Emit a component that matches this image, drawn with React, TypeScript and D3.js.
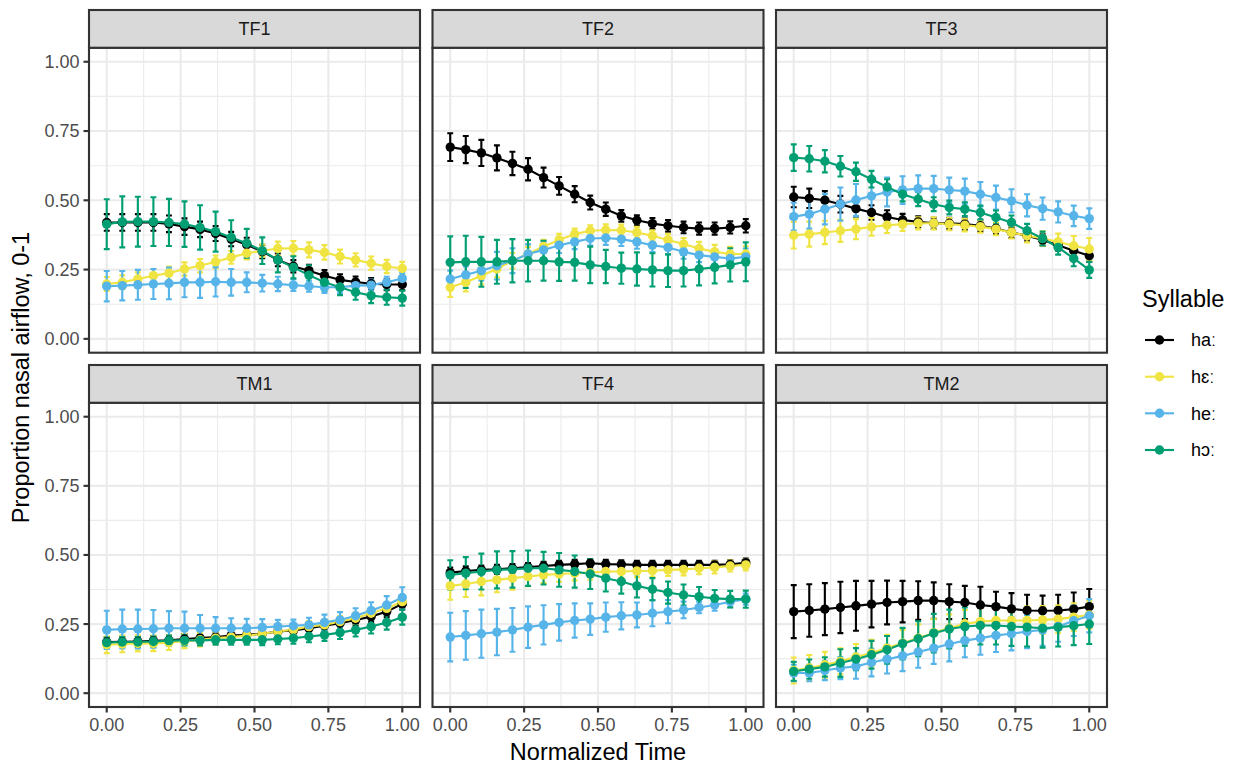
import React from "react";
import * as d3 from "d3";

// ---------- data ----------
const times = [0, 0.0526, 0.1053, 0.1579, 0.2105, 0.2632, 0.3158, 0.3684, 0.4211, 0.4737, 0.5263, 0.5789, 0.6316, 0.6842, 0.7368, 0.7895, 0.8421, 0.8947, 0.9474, 1];
const panelNames = ["TF1", "TF2", "TF3", "TM1", "TF4", "TM2"];
const syllables = ["haː", "hɛː", "heː", "hɔː"];
const syllableColors = ["#000000", "#F0E442", "#56B4E9", "#009E73"];
const xTicks = [0, 0.25, 0.5, 0.75, 1];
const yTicks = [0, 0.25, 0.5, 0.75, 1];
const minorTicks = [0.125, 0.375, 0.625, 0.875];

// TF1
const tf1_ha = [0.42, 0.42, 0.42, 0.42, 0.415, 0.405, 0.395, 0.38, 0.36, 0.34, 0.315, 0.285, 0.262, 0.246, 0.228, 0.213, 0.205, 0.199, 0.196, 0.196];
const tf1_ha_err = [0.03, 0.03, 0.03, 0.03, 0.03, 0.03, 0.028, 0.027, 0.026, 0.025, 0.024, 0.023, 0.022, 0.021, 0.02, 0.02, 0.02, 0.02, 0.02, 0.02];
const tf1_he1 = [0.198, 0.204, 0.216, 0.228, 0.237, 0.252, 0.264, 0.278, 0.294, 0.309, 0.318, 0.326, 0.327, 0.321, 0.312, 0.297, 0.285, 0.273, 0.261, 0.254];
const tf1_he1_err = [0.025, 0.025, 0.024, 0.024, 0.024, 0.024, 0.024, 0.023, 0.023, 0.022, 0.022, 0.025, 0.026, 0.027, 0.026, 0.025, 0.024, 0.024, 0.024, 0.024];
const tf1_he2 = [0.19, 0.192, 0.195, 0.198, 0.2, 0.204, 0.204, 0.206, 0.204, 0.204, 0.201, 0.198, 0.194, 0.19, 0.186, 0.186, 0.192, 0.194, 0.204, 0.218];
const tf1_he2_err = [0.055, 0.053, 0.054, 0.054, 0.057, 0.054, 0.056, 0.053, 0.048, 0.036, 0.03, 0.026, 0.021, 0.02, 0.02, 0.02, 0.02, 0.02, 0.02, 0.02];
const tf1_ho = [0.414, 0.422, 0.423, 0.423, 0.42, 0.414, 0.402, 0.387, 0.366, 0.345, 0.318, 0.285, 0.258, 0.23, 0.204, 0.186, 0.168, 0.156, 0.15, 0.147];
const tf1_ho_err = [0.09, 0.092, 0.09, 0.088, 0.085, 0.082, 0.08, 0.072, 0.062, 0.052, 0.048, 0.045, 0.04, 0.035, 0.03, 0.028, 0.027, 0.027, 0.027, 0.027];

// TF2
const tf2_ha = [0.692, 0.683, 0.671, 0.653, 0.633, 0.612, 0.582, 0.552, 0.522, 0.492, 0.468, 0.444, 0.428, 0.416, 0.408, 0.402, 0.398, 0.398, 0.402, 0.408];
const tf2_ha_err = [0.05, 0.049, 0.047, 0.045, 0.042, 0.04, 0.036, 0.032, 0.029, 0.025, 0.024, 0.021, 0.018, 0.02, 0.021, 0.021, 0.022, 0.022, 0.022, 0.024];
const tf2_he1 = [0.186, 0.204, 0.228, 0.252, 0.282, 0.306, 0.333, 0.357, 0.378, 0.39, 0.393, 0.392, 0.384, 0.372, 0.357, 0.342, 0.326, 0.314, 0.306, 0.306];
const tf2_he1_err = [0.035, 0.033, 0.032, 0.03, 0.028, 0.026, 0.024, 0.022, 0.02, 0.02, 0.02, 0.02, 0.02, 0.02, 0.022, 0.022, 0.024, 0.025, 0.026, 0.028];
const tf2_he2 = [0.216, 0.231, 0.246, 0.264, 0.282, 0.306, 0.321, 0.338, 0.35, 0.362, 0.364, 0.36, 0.35, 0.338, 0.33, 0.314, 0.302, 0.296, 0.29, 0.296];
const tf2_he2_err = [0.03, 0.03, 0.035, 0.05, 0.045, 0.035, 0.03, 0.028, 0.026, 0.025, 0.025, 0.025, 0.025, 0.025, 0.025, 0.025, 0.025, 0.025, 0.025, 0.03];
const tf2_ho = [0.276, 0.278, 0.278, 0.278, 0.282, 0.282, 0.282, 0.278, 0.276, 0.267, 0.261, 0.255, 0.252, 0.249, 0.246, 0.246, 0.252, 0.258, 0.267, 0.278];
const tf2_ho_err = [0.094, 0.094, 0.09, 0.079, 0.078, 0.075, 0.072, 0.069, 0.066, 0.066, 0.06, 0.056, 0.06, 0.06, 0.059, 0.057, 0.059, 0.058, 0.06, 0.07];

// TF3
const tf3_ha = [0.512, 0.507, 0.5, 0.486, 0.47, 0.456, 0.44, 0.429, 0.422, 0.417, 0.417, 0.414, 0.408, 0.398, 0.384, 0.372, 0.357, 0.338, 0.318, 0.3];
const tf3_ha_err = [0.037, 0.035, 0.033, 0.03, 0.028, 0.026, 0.024, 0.022, 0.02, 0.02, 0.02, 0.02, 0.02, 0.02, 0.02, 0.02, 0.02, 0.02, 0.02, 0.022];
const tf3_he1 = [0.374, 0.378, 0.384, 0.39, 0.396, 0.404, 0.41, 0.414, 0.417, 0.417, 0.414, 0.41, 0.405, 0.396, 0.384, 0.372, 0.362, 0.35, 0.336, 0.324];
const tf3_he1_err = [0.048, 0.045, 0.042, 0.04, 0.036, 0.032, 0.028, 0.025, 0.022, 0.022, 0.022, 0.022, 0.022, 0.022, 0.022, 0.024, 0.026, 0.03, 0.035, 0.04];
const tf3_he2 = [0.441, 0.45, 0.468, 0.486, 0.501, 0.516, 0.53, 0.537, 0.542, 0.542, 0.537, 0.533, 0.522, 0.51, 0.498, 0.482, 0.47, 0.458, 0.444, 0.434];
const tf3_he2_err = [0.05, 0.052, 0.055, 0.06, 0.058, 0.055, 0.052, 0.05, 0.048, 0.046, 0.045, 0.045, 0.044, 0.043, 0.042, 0.04, 0.04, 0.038, 0.037, 0.037];
const tf3_ho = [0.654, 0.65, 0.641, 0.623, 0.603, 0.576, 0.548, 0.522, 0.504, 0.486, 0.474, 0.468, 0.456, 0.438, 0.42, 0.39, 0.362, 0.33, 0.29, 0.249];
const tf3_ho_err = [0.048, 0.046, 0.04, 0.037, 0.033, 0.03, 0.028, 0.026, 0.025, 0.025, 0.025, 0.025, 0.025, 0.025, 0.025, 0.025, 0.025, 0.026, 0.028, 0.029];

// TM1
const tm1_ha = [0.185, 0.186, 0.187, 0.189, 0.191, 0.196, 0.199, 0.203, 0.208, 0.211, 0.215, 0.223, 0.227, 0.235, 0.244, 0.253, 0.265, 0.277, 0.295, 0.323];
const tm1_ha_err = [0.018, 0.018, 0.018, 0.018, 0.018, 0.018, 0.018, 0.018, 0.018, 0.018, 0.018, 0.018, 0.018, 0.018, 0.018, 0.019, 0.019, 0.02, 0.02, 0.02];
const tm1_he1 = [0.175, 0.178, 0.18, 0.18, 0.183, 0.189, 0.193, 0.199, 0.203, 0.208, 0.215, 0.223, 0.23, 0.241, 0.247, 0.259, 0.271, 0.289, 0.307, 0.331];
const tm1_he1_err = [0.03, 0.03, 0.029, 0.028, 0.027, 0.026, 0.024, 0.022, 0.02, 0.02, 0.02, 0.02, 0.02, 0.02, 0.02, 0.02, 0.02, 0.02, 0.02, 0.022];
const tm1_he2 = [0.229, 0.232, 0.232, 0.233, 0.235, 0.235, 0.235, 0.235, 0.235, 0.235, 0.238, 0.241, 0.244, 0.247, 0.256, 0.265, 0.28, 0.299, 0.319, 0.346];
const tm1_he2_err = [0.069, 0.07, 0.07, 0.068, 0.062, 0.06, 0.048, 0.04, 0.036, 0.034, 0.03, 0.024, 0.022, 0.026, 0.028, 0.028, 0.027, 0.03, 0.032, 0.037];
const tm1_ho = [0.183, 0.185, 0.185, 0.187, 0.19, 0.191, 0.191, 0.193, 0.193, 0.193, 0.193, 0.196, 0.199, 0.205, 0.211, 0.219, 0.229, 0.241, 0.256, 0.275];
const tm1_ho_err = [0.018, 0.018, 0.018, 0.018, 0.018, 0.018, 0.018, 0.018, 0.018, 0.018, 0.019, 0.019, 0.02, 0.021, 0.022, 0.023, 0.024, 0.025, 0.026, 0.027];

// TF4
const tf4_ha = [0.436, 0.442, 0.446, 0.448, 0.452, 0.456, 0.46, 0.464, 0.467, 0.47, 0.467, 0.466, 0.464, 0.464, 0.464, 0.464, 0.464, 0.464, 0.466, 0.472];
const tf4_ha_err = [0.018, 0.017, 0.016, 0.016, 0.015, 0.015, 0.015, 0.015, 0.015, 0.015, 0.015, 0.015, 0.015, 0.015, 0.015, 0.015, 0.015, 0.015, 0.015, 0.015];
const tf4_he1 = [0.388, 0.395, 0.404, 0.41, 0.416, 0.422, 0.428, 0.431, 0.434, 0.436, 0.44, 0.44, 0.442, 0.443, 0.446, 0.448, 0.452, 0.455, 0.46, 0.464];
const tf4_he1_err = [0.05, 0.047, 0.05, 0.045, 0.042, 0.035, 0.03, 0.028, 0.026, 0.025, 0.024, 0.022, 0.022, 0.022, 0.022, 0.022, 0.022, 0.022, 0.02, 0.02];
const tf4_he2 = [0.203, 0.209, 0.215, 0.221, 0.229, 0.239, 0.247, 0.256, 0.263, 0.268, 0.275, 0.28, 0.283, 0.289, 0.295, 0.301, 0.31, 0.319, 0.331, 0.34];
const tf4_he2_err = [0.088, 0.088, 0.087, 0.084, 0.079, 0.075, 0.071, 0.066, 0.062, 0.057, 0.053, 0.049, 0.045, 0.047, 0.042, 0.03, 0.021, 0.021, 0.02, 0.02];
const tf4_ho = [0.428, 0.434, 0.44, 0.446, 0.448, 0.452, 0.452, 0.446, 0.44, 0.431, 0.416, 0.404, 0.388, 0.376, 0.364, 0.355, 0.349, 0.343, 0.34, 0.34];
const tf4_ho_err = [0.053, 0.058, 0.065, 0.067, 0.066, 0.064, 0.059, 0.061, 0.058, 0.054, 0.048, 0.044, 0.042, 0.04, 0.04, 0.038, 0.035, 0.03, 0.03, 0.031];

// TM2
const tm2_ha = [0.295, 0.299, 0.304, 0.31, 0.316, 0.322, 0.328, 0.331, 0.335, 0.335, 0.331, 0.328, 0.319, 0.313, 0.305, 0.299, 0.298, 0.299, 0.304, 0.313];
const tm2_ha_err = [0.096, 0.095, 0.094, 0.093, 0.09, 0.084, 0.079, 0.075, 0.07, 0.066, 0.063, 0.06, 0.066, 0.054, 0.057, 0.057, 0.055, 0.057, 0.06, 0.064];
const tm2_he1 = [0.082, 0.091, 0.103, 0.115, 0.131, 0.145, 0.163, 0.181, 0.199, 0.219, 0.235, 0.251, 0.259, 0.263, 0.263, 0.263, 0.265, 0.268, 0.275, 0.283];
const tm2_he1_err = [0.047, 0.047, 0.047, 0.047, 0.047, 0.048, 0.048, 0.048, 0.05, 0.05, 0.05, 0.05, 0.05, 0.05, 0.05, 0.05, 0.05, 0.05, 0.05, 0.05];
const tm2_he2 = [0.073, 0.073, 0.082, 0.091, 0.097, 0.111, 0.123, 0.135, 0.149, 0.163, 0.178, 0.19, 0.199, 0.209, 0.215, 0.223, 0.229, 0.241, 0.262, 0.28];
const tm2_he2_err = [0.03, 0.03, 0.035, 0.04, 0.045, 0.05, 0.052, 0.055, 0.057, 0.057, 0.063, 0.06, 0.06, 0.06, 0.06, 0.06, 0.058, 0.055, 0.055, 0.06];
const tm2_ho = [0.079, 0.087, 0.095, 0.109, 0.123, 0.139, 0.157, 0.179, 0.197, 0.217, 0.232, 0.241, 0.245, 0.245, 0.241, 0.239, 0.235, 0.239, 0.244, 0.25];
const tm2_ho_err = [0.034, 0.035, 0.035, 0.05, 0.04, 0.05, 0.05, 0.057, 0.063, 0.07, 0.07, 0.069, 0.069, 0.069, 0.07, 0.07, 0.07, 0.07, 0.07, 0.072];

const panelMeans = [
  [tf1_ha, tf1_he1, tf1_he2, tf1_ho],
  [tf2_ha, tf2_he1, tf2_he2, tf2_ho],
  [tf3_ha, tf3_he1, tf3_he2, tf3_ho],
  [tm1_ha, tm1_he1, tm1_he2, tm1_ho],
  [tf4_ha, tf4_he1, tf4_he2, tf4_ho],
  [tm2_ha, tm2_he1, tm2_he2, tm2_ho],
];
const panelErrs = [
  [tf1_ha_err, tf1_he1_err, tf1_he2_err, tf1_ho_err],
  [tf2_ha_err, tf2_he1_err, tf2_he2_err, tf2_ho_err],
  [tf3_ha_err, tf3_he1_err, tf3_he2_err, tf3_ho_err],
  [tm1_ha_err, tm1_he1_err, tm1_he2_err, tm1_ho_err],
  [tf4_ha_err, tf4_he1_err, tf4_he2_err, tf4_ho_err],
  [tm2_ha_err, tm2_he1_err, tm2_he2_err, tm2_ho_err],
];

// ---------- layout ----------
const W = 1238;
const H = 767;
const FONT = "'Liberation Sans', Arial, Helvetica, sans-serif";
const colLefts = [89, 432.5, 776];
const panelW = 331;
const stripTops = [10, 365];
const plotTops = [47.9, 402.9];
const plotBottoms = [352.7, 707];
const capHalf = 0.01;
const grid = "#ebebeb";
const dark = "#333333";

function Panel({ idx }: { idx: number }) {
  const col = idx % 3;
  const row = Math.floor(idx / 3);
  const left = colLefts[col];
  const top = plotTops[row];
  const h = plotBottoms[row] - top;
  const x = d3.scaleLinear().domain([-0.06, 1.06]).range([0, panelW]);
  const y = d3.scaleLinear().domain([-0.05, 1.05]).range([h, 0]);
  const means = panelMeans[idx];
  const errs = panelErrs[idx];
  const line = d3
    .line<number>()
    .x((_, i) => x(times[i]))
    .y((d) => y(d));
  const stripH = top - stripTops[row];
  return (
    <g>
      <g transform={`translate(${left},${stripTops[row]})`}>
        <rect x={0} y={0} width={panelW} height={stripH} fill="#d9d9d9" stroke={dark} strokeWidth={2.1} />
        <text x={panelW / 2} y={stripH / 2} dy="0.36em" textAnchor="middle" fontSize={18} fill="#1a1a1a" fontFamily={FONT}>
          {panelNames[idx]}
        </text>
      </g>
      <g transform={`translate(${left},${top})`}>
        <rect x={0} y={0} width={panelW} height={h} fill="#ffffff" />
        {minorTicks.map((t) => (
          <line key={"my" + t} x1={0} x2={panelW} y1={y(t)} y2={y(t)} stroke={grid} strokeWidth={1.07} />
        ))}
        {minorTicks.map((t) => (
          <line key={"mx" + t} x1={x(t)} x2={x(t)} y1={0} y2={h} stroke={grid} strokeWidth={1.07} />
        ))}
        {yTicks.map((t) => (
          <line key={"gy" + t} x1={0} x2={panelW} y1={y(t)} y2={y(t)} stroke={grid} strokeWidth={2.13} />
        ))}
        {xTicks.map((t) => (
          <line key={"gx" + t} x1={x(t)} x2={x(t)} y1={0} y2={h} stroke={grid} strokeWidth={2.13} />
        ))}
        {means.map((m, s) => (
          <path key={"l" + s} d={line(m) || ""} fill="none" stroke={syllableColors[s]} strokeWidth={2.13} strokeLinejoin="round" />
        ))}
        {means.map((m, s) => (
          <g key={"e" + s} stroke={syllableColors[s]} strokeWidth={2.13} fill="none">
            {m.map((v, i) => {
              const e = errs[s][i];
              const t = times[i];
              const yl = y(v - e);
              const yh = y(v + e);
              return (
                <path
                  key={i}
                  d={`M${x(t - capHalf)},${yh}H${x(t + capHalf)}M${x(t)},${yh}V${yl}M${x(t - capHalf)},${yl}H${x(t + capHalf)}`}
                />
              );
            })}
          </g>
        ))}
        {means.map((m, s) => (
          <g key={"p" + s} fill={syllableColors[s]}>
            {m.map((v, i) => (
              <circle key={i} cx={x(times[i])} cy={y(v)} r={4.7} />
            ))}
          </g>
        ))}
        <rect x={0} y={0} width={panelW} height={h} fill="none" stroke={dark} strokeWidth={2.13} />
        {col === 0 &&
          yTicks.map((t) => (
            <g key={"yt" + t}>
              <line x1={-5.5} x2={0} y1={y(t)} y2={y(t)} stroke={dark} strokeWidth={2.13} />
              <text x={-9.5} y={y(t)} dy="0.36em" textAnchor="end" fontSize={18} fill="#4d4d4d" fontFamily={FONT}>
                {d3.format(".2f")(t)}
              </text>
            </g>
          ))}
        {row === 1 &&
          xTicks.map((t) => (
            <g key={"xt" + t}>
              <line x1={x(t)} x2={x(t)} y1={h} y2={h + 5.5} stroke={dark} strokeWidth={2.13} />
              <text x={x(t)} y={h + 24.5} textAnchor="middle" fontSize={18} fill="#4d4d4d" fontFamily={FONT}>
                {d3.format(".2f")(t)}
              </text>
            </g>
          ))}
      </g>
    </g>
  );
}

export default function App() {
  const legendYs = [340, 376.7, 413.3, 450];
  return (
    <svg
      width={W}
      height={H}
      style={{ position: "absolute", left: 0, top: 0, background: "#ffffff" }}
      fontFamily={FONT}
    >
      <rect x={0} y={0} width={W} height={H} fill="#ffffff" />
      {panelNames.map((_, i) => (
        <Panel key={i} idx={i} />
      ))}
      <text x={598} y={760} textAnchor="middle" fontSize={23.5} fill="#000000">
        Normalized Time
      </text>
      <text transform={`translate(29,377.5) rotate(-90)`} textAnchor="middle" fontSize={23.5} fill="#000000">
        Proportion nasal airflow, 0-1
      </text>
      <text x={1142} y={306.5} fontSize={23.5} fill="#000000">
        Syllable
      </text>
      {syllables.map((s, i) => (
        <g key={s} transform={`translate(0,${legendYs[i]})`}>
          <line x1={1145} x2={1174} y1={0} y2={0} stroke={syllableColors[i]} strokeWidth={2.13} />
          <circle cx={1159.5} cy={0} r={4.7} fill={syllableColors[i]} />
          <text x={1191} y={0} dy="0.36em" fontSize={18} fill="#000000">
            {s}
          </text>
        </g>
      ))}
    </svg>
  );
}
